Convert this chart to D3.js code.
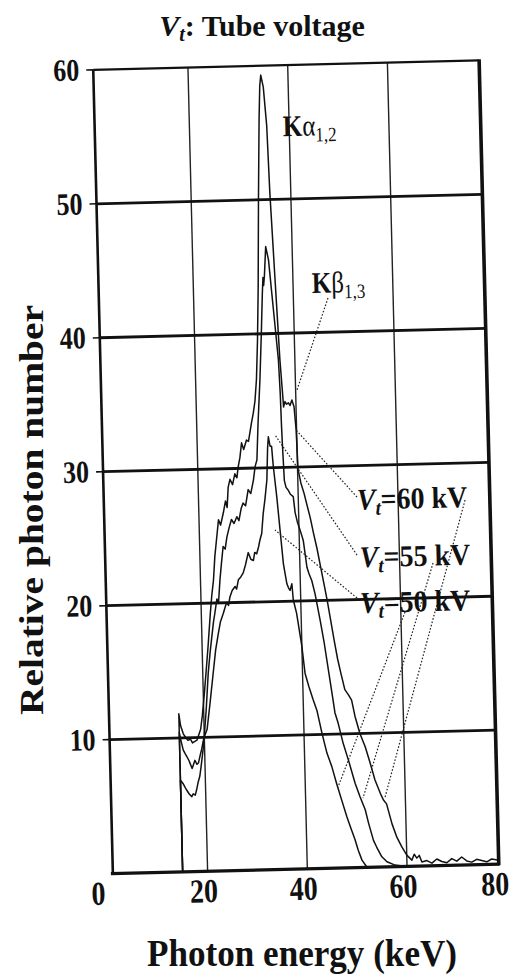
<!DOCTYPE html>
<html>
<head>
<meta charset="utf-8">
<script src="https://cdn.jsdelivr.net/npm/d3@7"></script>
<style>
  body { margin: 0; background: #fff; }
  text { font-family: "Liberation Serif", "Times New Roman", serif; fill: #111; }
</style>
</head>
<body>
<script>
const WIDTH = 515
const HEIGHT = 976

// axes
const xTicks = [0, 20, 40, 60, 80]
const yTicks = [10, 20, 30, 40, 50, 60]
const gridX = [20, 40, 60]
const gridY = [10, 20, 30, 40, 50]

const spec60 = [[15.0,0],[15.0,11.8],[15.3,10.9],[15.8,10.3],[16.3,10.0],[16.7,9.8],[17.2,9.9],[17.6,9.6],[18.0,9.7],[18.5,9.8],[19.0,10.3],[19.3,10.6],[19.7,11.6],[20.2,13.2],[20.65,14.8],[21.2,16.8],[21.8,19.2],[22.2,20.6],[22.6,21.7],[23.0,23.5],[23.4,24.7],[23.9,26.2],[24.3,25.8],[24.9,26.7],[25.4,27.6],[25.7,27.1],[26.0,28.6],[26.4,29.2],[26.9,28.8],[27.4,29.6],[27.8,29.3],[28.1,30.1],[28.5,30.8],[28.9,31.9],[29.3,31.4],[29.9,32.1],[30.3,32.0],[30.7,32.8],[31.0,33.4],[31.4,34.1],[31.8,35.0],[32.2,36.6],[32.6,39.5],[33.0,43.5],[33.5,50.2],[34.0,56.0],[34.3,58.5],[34.55,59.3],[35.0,58.4],[35.5,55.5],[35.8,50.5],[36.4,44.2],[37.0,38.0],[37.4,35.3],[37.5,34.5],[37.8,34.9],[38.1,34.7],[38.5,34.8],[38.8,34.6],[39.2,35.0],[39.6,34.5],[39.9,32.8],[40.1,29.8],[40.6,28.8],[41.2,28.0],[41.8,27.0],[42.3,26.2],[42.9,25.0],[43.5,23.9],[44.1,22.6],[44.7,21.3],[45.3,20.0],[45.9,18.5],[46.5,17.0],[47.1,15.6],[47.7,14.5],[48.4,13.3],[49.1,12.9],[49.7,12.5],[50.3,11.3],[51.2,10.0],[52.2,9.0],[53.1,7.8],[54.0,6.5],[55.0,5.5],[55.6,5.0],[56.2,4.7],[57.2,3.2],[58.1,2.2],[59.0,1.5],[60.0,0.84],[61.0,0.46],[61.5,0.9],[62.0,0.6],[62.5,0.8],[63.0,0.3],[64.0,0.4],[65.0,0.2],[66.0,0.5],[67.0,0.3],[68.0,0.2],[69.0,0.5],[70.0,0.3],[71.0,0.6],[72.0,0.3],[73.0,0.2],[74.0,0.4],[75.0,0.3],[76.0,0.2],[77.0,0.4],[78.4,0.3]]
const spec55 = [[15.0,0],[15.0,10.4],[15.3,9.8],[15.7,9.1],[16.1,8.8],[16.4,8.6],[16.8,8.3],[17.0,8.1],[17.4,7.7],[17.7,8.0],[18.0,8.3],[18.4,8.0],[18.7,8.1],[19.1,8.7],[19.4,9.1],[19.7,9.6],[20.0,10.1],[20.5,12.0],[21.1,14.8],[21.6,16.4],[22.0,17.5],[22.4,18.6],[22.7,19.2],[23.2,20.3],[23.5,20.0],[23.9,21.7],[24.3,23.0],[24.7,24.2],[25.1,24.0],[25.5,24.9],[26.0,25.6],[26.5,26.2],[27.0,25.9],[27.6,26.4],[28.0,26.1],[28.5,27.0],[28.9,27.4],[29.4,27.2],[30.0,28.4],[30.5,28.1],[31.1,29.1],[31.5,30.1],[31.9,30.6],[32.3,33.3],[32.9,36.6],[33.4,40.0],[33.8,43.0],[34.0,44.2],[34.1,43.6],[34.3,44.3],[34.7,46.5],[35.2,45.5],[35.7,43.0],[36.2,40.5],[36.7,38.0],[36.9,35.5],[37.0,33.0],[37.1,31.5],[37.3,29.0],[37.6,28.5],[38.0,28.3],[38.4,28.0],[39.0,27.8],[39.3,26.6],[39.7,25.9],[40.2,25.3],[40.8,24.5],[41.4,22.5],[41.8,22.0],[42.3,21.5],[42.9,20.5],[43.8,18.5],[44.5,16.8],[45.3,14.5],[46.0,12.5],[46.3,11.6],[46.9,10.8],[47.8,9.3],[48.8,8.0],[50.0,6.3],[50.9,5.3],[51.9,4.3],[52.5,3.3],[53.4,2.0],[54.0,1.5],[55.0,0.76],[56.0,0.38],[57.6,0.12],[59.6,0.02]]
const spec50 = [[15.0,0],[15.0,6.85],[15.5,6.6],[15.9,6.3],[16.2,6.1],[16.7,5.8],[17.2,5.6],[17.5,5.8],[17.9,5.7],[18.2,6.1],[18.5,6.6],[18.9,7.1],[19.2,7.8],[19.7,9.1],[19.9,9.95],[20.6,10.6],[21.3,12.5],[22.1,14.8],[22.7,16.5],[23.3,17.7],[23.8,18.6],[24.4,19.2],[25.1,20.0],[25.5,19.8],[25.8,20.4],[26.3,20.9],[26.9,21.2],[27.2,21.0],[27.6,21.7],[28.1,21.9],[28.6,22.2],[29.1,22.8],[29.7,23.7],[30.2,23.2],[30.7,23.1],[31.0,23.7],[31.4,23.6],[31.8,24.1],[32.1,24.6],[32.5,25.1],[32.9,26.6],[33.3,27.6],[33.8,29.1],[34.1,31.5],[34.3,32.3],[34.6,31.6],[34.9,31.6],[35.15,30.1],[35.7,27.8],[36.2,25.3],[36.7,22.8],[37.3,21.3],[37.6,21.0],[37.9,20.8],[38.3,21.3],[38.5,20.1],[39.1,19.1],[40.0,16.6],[40.5,14.6],[41.2,13.6],[42.0,12.6],[42.7,11.8],[43.6,10.1],[44.5,8.6],[45.4,7.6],[46.3,6.3],[47.2,5.1],[48.2,3.8],[48.8,3.1],[49.7,2.1],[50.3,1.3],[51.0,0.55],[51.9,0.05],[53.0,0]]

const seriesNames = ["60 kV", "55 kV", "50 kV"]

// where the labels sit (data units) and where their dotted leaders go
const labelAt = [[51.7,26.7],[52.0,22.4],[51.8,19.0]]
const leftLeader = [[[51.78,27.65],[39.88,32.76]],[[51.5,23.32],[35.65,32.43]],[[51.29,20.11],[35.18,25.34]]]
const rightLeader = [[[73.42,27.23],[55.94,5.21]],[[66.7,22.59],[51.51,5.18]],[[60.84,18.98],[46.55,6.04]]]
const kaAt = [38.7,54.7]
const kbAt = [43.75,42.95]
const kbLeader = [[46.94,42.55],[40.28,35.75]]

const mLeft = 103, mRight = 489, mTop = 65, mBottom = 869

const svg = d3.select("body")
    .append("svg")
    .attr("width", WIDTH)
    .attr("height", HEIGHT)

const x = d3.scaleLinear().domain([0, 80]).range([mLeft - 5, mRight + 8])
const y = d3.scaleLinear().domain([0, 60]).range([mBottom, mTop])

// the scan is a little tilted, so the whole plot is turned with it
const plot = svg.append("g").attr("transform", "rotate(-1.4, 296, 467)")

// grid
plot.selectAll(".gx").data(gridX).enter().append("line")
    .attr("x1", d => x(d)).attr("x2", d => x(d))
    .attr("y1", mTop).attr("y2", mBottom)
    .attr("stroke", "#222").attr("stroke-width", 1.4)

plot.selectAll(".gy").data(gridY).enter().append("line")
    .attr("x1", mLeft).attr("x2", mRight)
    .attr("y1", d => y(d)).attr("y2", d => y(d))
    .attr("stroke", "#111").attr("stroke-width", 2.8)

// ticks on the left
plot.selectAll(".ty").data(yTicks).enter().append("line")
    .attr("x1", mLeft - 7).attr("x2", mLeft)
    .attr("y1", d => y(d)).attr("y2", d => y(d))
    .attr("stroke", "#111").attr("stroke-width", 1.6)

// frame
const frame = [
    [mLeft, mTop, mRight, mTop, 2.2],
    [mLeft, mTop, mLeft, mBottom, 2.6],
    [mLeft - 2, mBottom, mRight + 1, mBottom, 3.2],
    [mRight, mTop - 1, mRight, mBottom + 1, 3.6]
]
plot.selectAll(".fr").data(frame).enter().append("line")
    .attr("x1", d => d[0]).attr("y1", d => d[1])
    .attr("x2", d => d[2]).attr("y2", d => d[3])
    .attr("stroke", "#111").attr("stroke-width", d => d[4])

// spectra
const line = d3.line().x(d => x(d[0])).y(d => y(d[1]))
plot.selectAll(".spec").data([spec60, spec55, spec50]).enter().append("path")
    .attr("d", line)
    .attr("fill", "none")
    .attr("stroke", "#111")
    .attr("stroke-width", 1.5)
    .attr("stroke-linejoin", "round")

// dotted leaders
const leaders = leftLeader.concat(rightLeader, [kbLeader])
plot.selectAll(".lead").data(leaders).enter().append("line")
    .attr("x1", d => x(d[0][0])).attr("y1", d => y(d[0][1]))
    .attr("x2", d => x(d[1][0])).attr("y2", d => y(d[1][1]))
    .attr("stroke", "#222").attr("stroke-width", 1.2)
    .attr("stroke-dasharray", "1.6,1.8")

// tick labels
plot.selectAll(".ly").data(yTicks).enter().append("g")
    .attr("transform", d => `translate(${mLeft - 14},${y(d)}) scale(1,1.2)`)
    .append("text")
    .attr("y", 8.5)
    .attr("text-anchor", "end")
    .attr("font-size", 26).attr("font-weight", "bold")
    .text(d => d)

plot.selectAll(".lx").data(xTicks).enter().append("g")
    .attr("transform", d => {
        const dx = d === 0 ? -10 : d === 80 ? -12 : -4
        return `translate(${x(d) + dx},${mBottom + 31}) scale(1,1.2)`
    })
    .append("text")
    .attr("text-anchor", "middle")
    .attr("font-size", 28).attr("font-weight", "bold")
    .text(d => d)

// K lines
const ka = plot.append("g")
    .attr("transform", `translate(${x(kaAt[0])},${y(kaAt[1])}) scale(1,1.2)`)
    .append("text").attr("font-size", 25)
ka.append("tspan").attr("font-weight", "bold").text("K")
ka.append("tspan").text("α")
ka.append("tspan").attr("font-size", 17).attr("dy", 5).text("1,2")

const kb = plot.append("g")
    .attr("transform", `translate(${x(kbAt[0])},${y(kbAt[1])}) scale(1,1.2)`)
    .append("text").attr("font-size", 25)
kb.append("tspan").attr("font-weight", "bold").text("K")
kb.append("tspan").text("β")
kb.append("tspan").attr("font-size", 17).attr("dy", 5).text("1,3")

// tube voltage labels
seriesNames.forEach((name, i) => {
    const t = plot.append("g")
        .attr("transform", `translate(${x(labelAt[i][0])},${y(labelAt[i][1])}) scale(1,1.08)`)
        .append("text")
        .attr("font-size", 28).attr("font-weight", "bold")
    t.append("tspan").attr("font-style", "italic").text("V")
    t.append("tspan").attr("font-style", "italic").attr("font-size", 19).attr("dy", 5).text("t")
    t.append("tspan").attr("dy", -5).text("=" + name)
})

// title
const title = svg.append("text")
    .attr("x", 262).attr("y", 36)
    .attr("text-anchor", "middle")
    .attr("font-size", 30).attr("font-weight", "bold")
title.append("tspan").attr("font-style", "italic").text("V")
title.append("tspan").attr("font-style", "italic").attr("font-size", 20).attr("dy", 5).text("t")
title.append("tspan").attr("dy", -5).text(": Tube voltage")

// axis titles
svg.append("g")
    .attr("transform", "translate(302,966) scale(1,1.2)")
    .append("text")
    .attr("text-anchor", "middle")
    .attr("font-size", 32).attr("font-weight", "bold")
    .attr("textLength", 310).attr("lengthAdjust", "spacingAndGlyphs")
    .text("Photon energy (keV)")

svg.append("g")
    .attr("transform", "translate(43,510) rotate(-90)")
    .append("text")
    .attr("text-anchor", "middle")
    .attr("font-size", 33).attr("font-weight", "bold")
    .attr("textLength", 410).attr("lengthAdjust", "spacingAndGlyphs")
    .text("Relative photon number")
</script>
</body>
</html>
